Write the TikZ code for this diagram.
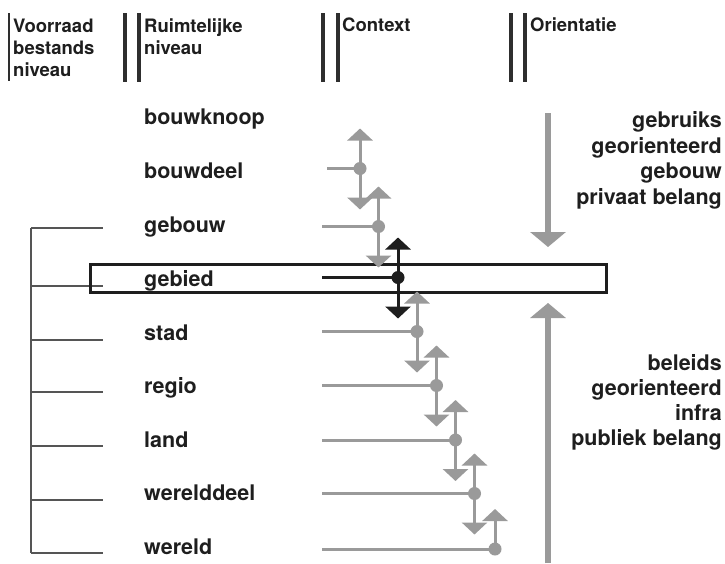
\documentclass[tikz,border=0pt]{standalone}
\usepackage{fontspec}
\setmainfont{TeX Gyre Heros}
\usetikzlibrary{arrows.meta,calc}
\definecolor{ink}{HTML}{1E1E1E}
\definecolor{rule}{HTML}{2E2E2E}
\definecolor{twig}{HTML}{555555}
\definecolor{flow}{HTML}{9A9A9A}
\begin{document}
\begin{tikzpicture}[x=1pt,y=-1pt,
  lvl/.style={anchor=base west, inner sep=0pt, text=ink, font=\fontsize{21.5}{25}\selectfont\bfseries},
  hdr/.style={anchor=base west, inner sep=0pt, text=ink, font=\fontsize{18.5}{22}\selectfont\bfseries},
  side/.style={anchor=base east, inner sep=0pt, text=ink, font=\fontsize{21.5}{25}\selectfont\bfseries},
  bar/.style={draw=rule, line width=3.8pt},
  tick/.style={draw=twig, line width=1.4pt},
  feed/.style={line width=3pt},
  hop/.style={feed, -{Triangle[width=25pt,length=12pt]}},
  knot/.style={circle, minimum size=13pt, inner sep=0pt},
  big/.style={draw=flow, line width=6pt, -{Triangle[width=35pt,length=15pt]}},
]
\useasboundingbox[fill=white] (0,0) rectangle (725,563);

% column headings
\draw[bar, line width=2.5pt] (9,13) -- (9,81);
\foreach \xa/\xb in {125/139, 323/338, 511/525}{
  \draw[bar] (\xa,13) -- (\xa,82);
  \draw[bar] (\xb,13) -- (\xb,82);
}
\node[hdr] (h1a) at (13,32) {Voorraad};
\node[hdr] (h1b) at (13,54) {bestands};
\node[hdr] (h1c) at (13,76) {niveau};
\node[hdr] (h2a) at (144,32) {Ruimtelijke};
\node[hdr] (h2b) at (144,54) {niveau};
\node[hdr] (h3)  at (342,31) {Context};
\node[hdr] (h4)  at (530,31) {Orientatie};

% spatial levels
\foreach \nm/\txt/\b in {bk/bouwknoop/124, bd/bouwdeel/178, gb/gebouw/232,
    gd/gebied/286, st/stad/340, rg/regio/393.5, ld/land/447,
    wd/werelddeel/500.5, wr/wereld/554}
  \node[lvl] (\nm) at (144,\b) {\txt};

% stock tree on the left
\coordinate (root-top) at (31,228);
\coordinate (root-bot) at (31,553);
\draw[tick] (root-top) -- (root-bot);
\foreach \i/\ty in {1/228, 2/286, 3/340, 4/392, 5/446, 6/500, 7/553}{
  \coordinate (ta-\i) at (31,\ty);
  \coordinate (tb-\i) at (103,\ty);
  \draw[tick] (ta-\i) -- (tb-\i);
}

% highlighted level
\draw[draw=ink, line width=3pt] (90,264.5) rectangle (606,292);

% context steps: feed line, upward and downward step
\foreach \nm/\sx/\dx/\dy/\c in {bd/327/360/168.5/flow, gb/322/378.5/226.5/flow,
    gd/322/398/277.5/ink, st/322/417/331.5/flow, rg/322/436.5/385.5/flow,
    ld/322/455.5/440/flow, wd/322/474.5/493.5/flow, wr/322/495/549/flow}{
  \coordinate (s-\nm) at (\sx,\dy);
  \coordinate (k-\nm) at (\dx,\dy);
  \coordinate (u-\nm) at (\dx,\dy-40);
  \draw[feed, draw=\c] (s-\nm) -- (k-\nm);
  \draw[hop, draw=\c] (k-\nm) -- (u-\nm);
}
\foreach \nm/\c in {bd/flow, gb/flow, gd/ink, st/flow, rg/flow, ld/flow, wd/flow}{
  \coordinate (w-\nm) at ($(k-\nm)+(0,41)$);
  \draw[hop, draw=\c] (k-\nm) -- (w-\nm);
}
\foreach \nm/\c in {bd/flow, gb/flow, gd/ink, st/flow, rg/flow, ld/flow, wd/flow, wr/flow}
  \node[knot, fill=\c] (dot-\nm) at (k-\nm) {};

% orientation arrows
\coordinate (o1) at (548,113);
\coordinate (o2) at (548,247);
\coordinate (o3) at (548,563);
\coordinate (o4) at (548,303);
\draw[big] (o1) -- (o2);
\draw[big] (o3) -- (o4);

\node[side] (r1) at (722,127) {gebruiks};
\node[side] (r2) at (722,153) {georienteerd};
\node[side] (r3) at (722,178.5) {gebouw};
\node[side] (r4) at (722,204) {privaat belang};
\node[side] (r5) at (722,370) {beleids};
\node[side] (r6) at (722,395.5) {georienteerd};
\node[side] (r7) at (722,420.5) {infra};
\node[side] (r8) at (722,445.5) {publiek belang};
\end{tikzpicture}
\end{document}
